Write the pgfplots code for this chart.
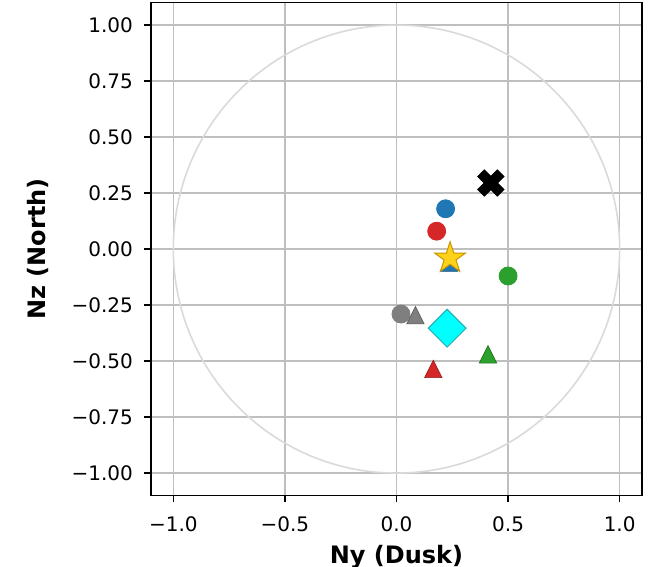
\documentclass[border=0pt]{standalone}
\usepackage{pgfplots}
\pgfplotsset{compat=1.18}
\usepackage{fontspec}
\setmainfont{DejaVu Sans}
\definecolor{tabblue}{HTML}{1F77B4}
\definecolor{tabred}{HTML}{D62728}
\definecolor{tabgreen}{HTML}{2CA02C}
\definecolor{tabgray}{HTML}{7F7F7F}
\definecolor{mycyan}{HTML}{00FFFF}
\definecolor{cyanedge}{HTML}{2AAAAA}
\definecolor{stargold}{HTML}{FFD21A}
\definecolor{staredge}{HTML}{C89600}
\definecolor{gridgray}{HTML}{BFBFBF}
\definecolor{circgray}{HTML}{DADADA}
\pgfdeclareplotmark{Xfilled}{%
  \pgfpathmoveto{\pgfqpoint{-0.5\pgfplotmarksize}{-1\pgfplotmarksize}}%
  \pgfpathlineto{\pgfqpoint{0pt}{-0.5\pgfplotmarksize}}%
  \pgfpathlineto{\pgfqpoint{0.5\pgfplotmarksize}{-1\pgfplotmarksize}}%
  \pgfpathlineto{\pgfqpoint{1\pgfplotmarksize}{-0.5\pgfplotmarksize}}%
  \pgfpathlineto{\pgfqpoint{0.5\pgfplotmarksize}{0pt}}%
  \pgfpathlineto{\pgfqpoint{1\pgfplotmarksize}{0.5\pgfplotmarksize}}%
  \pgfpathlineto{\pgfqpoint{0.5\pgfplotmarksize}{1\pgfplotmarksize}}%
  \pgfpathlineto{\pgfqpoint{0pt}{0.5\pgfplotmarksize}}%
  \pgfpathlineto{\pgfqpoint{-0.5\pgfplotmarksize}{1\pgfplotmarksize}}%
  \pgfpathlineto{\pgfqpoint{-1\pgfplotmarksize}{0.5\pgfplotmarksize}}%
  \pgfpathlineto{\pgfqpoint{-0.5\pgfplotmarksize}{0pt}}%
  \pgfpathlineto{\pgfqpoint{-1\pgfplotmarksize}{-0.5\pgfplotmarksize}}%
  \pgfpathclose
  \pgfusepathqfillstroke
}
\pgfdeclareplotmark{starfilled}{%
  \pgfpathmoveto{\pgfqpoint{0pt}{1\pgfplotmarksize}}%
  \pgfpathlineto{\pgfqpoint{-0.2245\pgfplotmarksize}{0.3090\pgfplotmarksize}}%
  \pgfpathlineto{\pgfqpoint{-0.9511\pgfplotmarksize}{0.3090\pgfplotmarksize}}%
  \pgfpathlineto{\pgfqpoint{-0.3633\pgfplotmarksize}{-0.1180\pgfplotmarksize}}%
  \pgfpathlineto{\pgfqpoint{-0.5878\pgfplotmarksize}{-0.8090\pgfplotmarksize}}%
  \pgfpathlineto{\pgfqpoint{0pt}{-0.382\pgfplotmarksize}}%
  \pgfpathlineto{\pgfqpoint{0.5878\pgfplotmarksize}{-0.8090\pgfplotmarksize}}%
  \pgfpathlineto{\pgfqpoint{0.3633\pgfplotmarksize}{-0.1180\pgfplotmarksize}}%
  \pgfpathlineto{\pgfqpoint{0.9511\pgfplotmarksize}{0.3090\pgfplotmarksize}}%
  \pgfpathlineto{\pgfqpoint{0.2245\pgfplotmarksize}{0.3090\pgfplotmarksize}}%
  \pgfpathclose
  \pgfusepathqfillstroke
}
\begin{document}
\begin{tikzpicture}
\useasboundingbox (-75.5pt,-35.75pt) rectangle (254pt,247.75pt);
\begin{axis}[
  at={(0,0)}, anchor=south west,
  scale only axis, width=245.5pt, height=246.4pt,
  xmin=-1.1, xmax=1.1, ymin=-1.1, ymax=1.1,
  xtick={-1,-0.5,0,0.5,1},
  xticklabels={−1.0,−0.5,0.0,0.5,1.0},
  ytick={-1,-0.75,-0.5,-0.25,0,0.25,0.5,0.75,1},
  yticklabels={−1.00,−0.75,−0.50,−0.25,0.00,0.25,0.50,0.75,1.00},
  tick align=outside, tick pos=left,
  major tick length=3.5pt,
  tick style={black, line width=0.6pt},
  grid=major,
  grid style={gridgray, line width=0.6pt},
  axis line style={black, line width=0.7pt},
  ticklabel style={font=\fontsize{10}{12}\selectfont},
  xticklabel style={yshift=-3.5pt},
  yticklabel style={xshift=-2pt},
  xlabel={Ny (Dusk)}, ylabel={Nz (North)},
  label style={font=\fontsize{12}{14}\selectfont\bfseries},
  xlabel style={at={(axis description cs:0.5,-0.137)}, anchor=base},
  ylabel style={at={(axis description cs:-0.23,0.5)}, anchor=center},
  clip=false,
]
\draw[circgray, line width=0.8pt] (axis cs:0,0) ellipse [x radius=1, y radius=1];
% blue circle
\addplot[only marks, mark=*, mark size=4.5pt, color=tabblue] coordinates {(0.22,0.18)};
% red circle
\addplot[only marks, mark=*, mark size=4.5pt, color=tabred] coordinates {(0.18,0.08)};
% blue triangle
\addplot[only marks, mark=triangle*, mark size=5.83pt, mark options={xscale=0.866, yshift=-1.46pt, fill=tabblue, draw=tabblue!70!black, line width=0.3pt}] coordinates {(0.235,-0.06)};
% red triangle
\addplot[only marks, mark=triangle*, mark size=5.83pt, mark options={xscale=0.866, yshift=-1.46pt, fill=tabred, draw=tabred!70!black, line width=0.3pt}] coordinates {(0.165,-0.535)};
% green circle
\addplot[only marks, mark=*, mark size=4.5pt, color=tabgreen] coordinates {(0.50,-0.12)};
% green triangle
\addplot[only marks, mark=triangle*, mark size=5.83pt, mark options={xscale=0.866, yshift=-1.46pt, fill=tabgreen, draw=tabgreen!70!black, line width=0.3pt}] coordinates {(0.41,-0.47)};
% gray circle
\addplot[only marks, mark=*, mark size=4.5pt, color=tabgray] coordinates {(0.02,-0.29)};
% gray triangle
\addplot[only marks, mark=triangle*, mark size=5.83pt, mark options={xscale=0.866, yshift=-1.46pt, fill=tabgray, draw=tabgray!70!black, line width=0.3pt}] coordinates {(0.085,-0.295)};
% cyan diamond
\addplot[only marks, mark=square*, mark size=6.7pt, mark options={rotate=45, fill=mycyan, draw=cyanedge, line width=0.5pt}] coordinates {(0.227,-0.353)};
% star
\addplot[only marks, mark=starfilled, mark size=8.15pt, mark options={fill=stargold, draw=staredge, line width=0.5pt}] coordinates {(0.24,-0.04)};
% black X
\addplot[only marks, mark=Xfilled, mark size=6.5pt, mark options={fill=black, draw=black, line width=0.5pt}] coordinates {(0.423,0.295)};
\end{axis}
\end{tikzpicture}
\end{document}
